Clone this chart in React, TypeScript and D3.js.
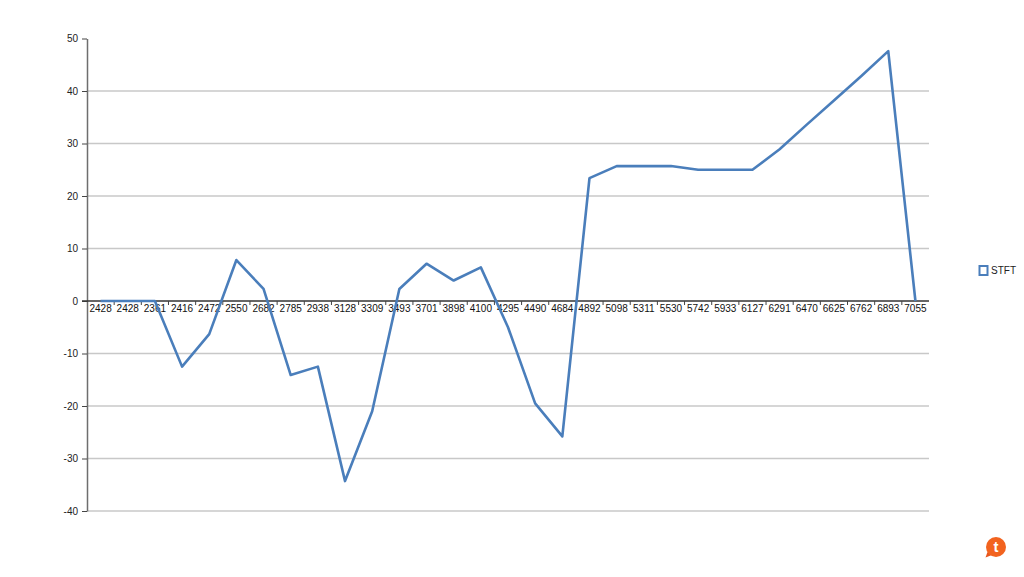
import React, { useEffect, useRef } from 'react';
import * as d3 from 'd3';

const categories = ['2428', '2428', '2361', '2416', '2472', '2550', '2682', '2785', '2938', '3128', '3309', '3493', '3701', '3898', '4100', '4295', '4490', '4684', '4892', '5098', '5311', '5530', '5742', '5933', '6127', '6291', '6470', '6625', '6762', '6893', '7055'];
const stft = [0, 0, 0, -12.5, -6.3, 7.8, 2.3, -14.1, -12.5, -34.3, -21, 2.3, 7.1, 3.9, 6.4, -5, -19.5, -25.8, 23.4, 25.7, 25.7, 25.7, 25, 25, 25, 28.9, 33.6, 38.2, 42.8, 47.6, 0];
const yTicks = [50, 40, 30, 20, 10, 0, -10, -20, -30, -40];
const seriesName = 'STFT';

const FONT = '"Liberation Sans", Arial, sans-serif';
const BLUE = '#4a7ebb';

const App = () => {
  const svgRef = useRef<SVGSVGElement>(null);

  useEffect(() => {
    const svg = d3.select(svgRef.current);
    svg.selectAll('*').remove();

    const left = 87;
    const right = 929;
    const x = d3.scaleBand<number>().domain(d3.range(categories.length)).range([left, right]);
    const y = d3.scaleLinear().domain([-40, 50]).range([511, 38.5]);
    const cx = (i: number) => x(i)! + x.bandwidth() / 2;

    // gridlines
    svg.append('g')
      .selectAll('line')
      .data(yTicks.filter(d => d !== 50 && d !== 0))
      .enter().append('line')
      .attr('x1', left)
      .attr('x2', right)
      .attr('y1', d => y(d))
      .attr('y2', d => y(d))
      .attr('stroke', '#c8c8c8')
      .attr('stroke-width', 1.4);

    // y axis, plain hyphen on the negative labels like the original
    const yAxis = svg.append('g')
      .attr('transform', `translate(${left},0)`)
      .call(d3.axisLeft(y).tickValues(yTicks).tickSize(5).tickSizeOuter(0).tickPadding(4).tickFormat(d => String(d)));
    yAxis.select('.domain').attr('stroke', '#6e6e6e').attr('stroke-width', 1.5);
    yAxis.selectAll('.tick line').attr('stroke', '#444').attr('x2', -5);
    yAxis.selectAll('text')
      .attr('font-family', FONT)
      .attr('font-size', 10)
      .attr('fill', '#222');

    // x axis along zero, ticks at the band edges
    const zero = y(0);
    svg.append('line')
      .attr('x1', left - 5)
      .attr('x2', right)
      .attr('y1', zero)
      .attr('y2', zero)
      .attr('stroke', '#333')
      .attr('stroke-width', 1.3);

    svg.append('g')
      .selectAll('line')
      .data(d3.range(1, categories.length))
      .enter().append('line')
      .attr('x1', d => x(d)!)
      .attr('x2', d => x(d)!)
      .attr('y1', zero)
      .attr('y2', zero + 4)
      .attr('stroke', '#444');

    svg.append('g')
      .selectAll('text')
      .data(categories)
      .enter().append('text')
      .attr('x', (d, i) => cx(i))
      .attr('y', zero + 10.5)
      .attr('text-anchor', 'middle')
      .attr('font-family', FONT)
      .attr('font-size', 10)
      .attr('fill', '#111')
      .text(d => d);

    // series line
    const line = d3.line<number>().x((d, i) => cx(i)).y(d => y(d));
    svg.append('path')
      .datum(stft)
      .attr('d', line)
      .attr('fill', 'none')
      .attr('stroke', BLUE)
      .attr('stroke-width', 2.6)
      .attr('stroke-linejoin', 'round');

    // legend
    svg.append('rect')
      .attr('x', 979.5)
      .attr('y', 266)
      .attr('width', 8)
      .attr('height', 9)
      .attr('fill', '#fff')
      .attr('stroke', BLUE)
      .attr('stroke-width', 2);
    svg.append('text')
      .attr('x', 991)
      .attr('y', 274)
      .attr('font-family', FONT)
      .attr('font-size', 10)
      .attr('fill', '#222')
      .text(seriesName);

    // orange badge, bottom right
    const badge = svg.append('g');
    badge.append('path')
      .attr('d', 'M987.5 552 L985.5 557.5 L992 555 Z')
      .attr('fill', '#e8561c');
    badge.append('circle')
      .attr('cx', 996)
      .attr('cy', 547)
      .attr('r', 10)
      .attr('fill', '#f2631f');
    badge.append('text')
      .attr('x', 996)
      .attr('y', 552)
      .attr('text-anchor', 'middle')
      .attr('font-family', FONT)
      .attr('font-weight', 'bold')
      .attr('font-size', 15)
      .attr('fill', '#fff')
      .text('t');
  }, []);

  return (
    <svg
      ref={svgRef}
      width={1024}
      height={577}
      style={{ position: 'absolute', left: 0, top: 0, background: '#fff' }}
    />
  );
};

export default App;
